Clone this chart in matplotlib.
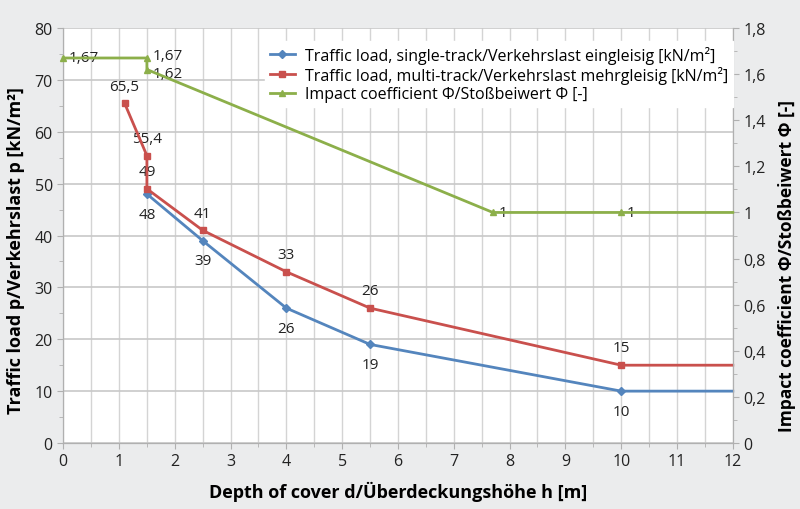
import matplotlib
matplotlib.use('Agg')
import matplotlib.pyplot as plt
from matplotlib.ticker import MultipleLocator, FuncFormatter

plt.rcParams['font.family'] = ['Open Sans', 'DejaVu Sans']

# single-track traffic load
single_x = [1.5, 2.5, 4, 5.5, 10, 12]
single_y = [48, 39, 26, 19, 10, 10]
single_lbl = ['48', '39', '26', '19', '10', '']

# multi-track traffic load
multi_x = [1.1, 1.5, 1.5, 2.5, 4, 5.5, 10, 12]
multi_y = [65.5, 55.4, 49, 41, 33, 26, 15, 15]
multi_lbl = ['65,5', '55,4', '49', '41', '33', '26', '15', '']

# impact coefficient (right axis)
phi_x = [0, 1.5, 1.5, 7.7, 10, 12]
phi_y = [1.67, 1.67, 1.62, 1, 1, 1]
phi_lbl = ['1,67', '1,67', '1,62', '1', '1', '']
phi_dy = [0, 2, -3, 0, 0, 0]

c_blue = '#5485bd'
c_red = '#c9504d'
c_green = '#8caf4a'
bg = '#ebeced'


def comma(v, pos):
    s = ('%.1f' % v).rstrip('0').rstrip('.')
    return s.replace('.', ',')


fig = plt.figure(figsize=(8, 5.1), dpi=100, facecolor=bg)
ax = fig.add_axes([0.079, 0.1294, 0.837, 0.8137])
ax2 = ax.twinx()

ax.set_xlim(0, 12)
ax.set_ylim(0, 80)
ax2.set_ylim(0, 1.8)

ax.xaxis.set_major_locator(MultipleLocator(1))
ax.xaxis.set_minor_locator(MultipleLocator(0.5))
ax.yaxis.set_major_locator(MultipleLocator(10))
ax.yaxis.set_minor_locator(MultipleLocator(5))
ax2.yaxis.set_major_locator(MultipleLocator(0.2))
ax2.yaxis.set_minor_locator(MultipleLocator(0.1))
ax2.yaxis.set_major_formatter(FuncFormatter(comma))

ax.grid(which='both', axis='x', color='#d4d4d4', lw=1)
ax.grid(which='major', axis='y', color='#c8c8c8', lw=1.2)
ax.set_axisbelow(True)

for a in (ax, ax2):
    for s in a.spines.values():
        s.set_color('#b0b0b0')
    a.tick_params(which='both', colors='#b0b0b0', labelcolor='#222222', labelsize=11.5)
    a.tick_params(which='major', length=4)
    a.tick_params(which='minor', length=3)
ax.spines['top'].set_visible(False)
ax2.spines['top'].set_visible(False)

l1, = ax.plot(single_x, single_y, color=c_blue, lw=2, marker='D', ms=4,
              label='Traffic load, single-track/Verkehrslast eingleisig [kN/m²]', clip_on=False, zorder=4)
l2, = ax.plot(multi_x, multi_y, color=c_red, lw=2, marker='s', ms=5,
              label='Traffic load, multi-track/Verkehrslast mehrgleisig [kN/m²]', clip_on=False, zorder=4)
l3, = ax2.plot(phi_x, phi_y, color=c_green, lw=2, marker='^', ms=5,
               label='Impact coefficient Φ/Stoßbeiwert Φ [-]', clip_on=False, zorder=4)
# no markers at the right edge
for ln, xs in ((l1, single_x), (l2, multi_x), (l3, phi_x)):
    ln.set_markevery(list(range(len(xs) - 1)))

for x, y, t in zip(single_x, single_y, single_lbl):
    if t:
        ax.annotate(t, (x, y), xytext=(0, -9), textcoords='offset points',
                    ha='center', va='top', fontsize=11, color='#222222')
for x, y, t in zip(multi_x, multi_y, multi_lbl):
    if t:
        ax.annotate(t, (x, y), xytext=(0, 7), textcoords='offset points',
                    ha='center', va='bottom', fontsize=11, color='#222222')
for x, y, t, dy in zip(phi_x, phi_y, phi_lbl, phi_dy):
    if t:
        ax2.annotate(t, (x, y), xytext=(4, dy), textcoords='offset points',
                     ha='left', va='center', fontsize=11, color='#222222')

ax.set_xlabel('Depth of cover d/Überdeckungshöhe h [m]', fontsize=13, fontweight='bold', labelpad=8)
ax.set_ylabel('Traffic load p/Verkehrslast p [kN/m²]', fontsize=13, fontweight='bold')
ax2.set_ylabel('Impact coefficient Φ/Stoßbeiwert Φ [-]', fontsize=12.5, fontweight='bold')
ax.yaxis.set_label_coords(-0.057, 0.467)
ax2.yaxis.set_label_coords(1.068, 0.43)

leg = ax2.legend(handles=[l1, l2, l3], loc='upper right', bbox_to_anchor=(1.0, 0.969),
                 fontsize=11.5, frameon=True, fancybox=False, framealpha=1,
                 edgecolor='white', borderpad=0.3, labelspacing=0.15, handlelength=1.6,
                 handletextpad=0.6, borderaxespad=0)
leg.set_zorder(10)

fig.savefig('out.png', dpi=100, facecolor=bg)
